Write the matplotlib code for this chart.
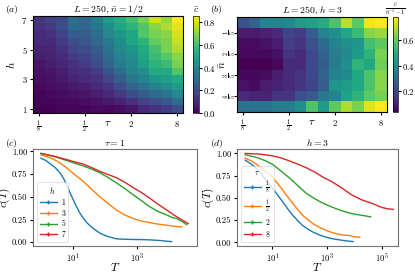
import numpy as np
import matplotlib
matplotlib.use("Agg")
import matplotlib.pyplot as plt
import matplotlib.transforms as mtransforms
from matplotlib.lines import Line2D

plt.rcParams["font.family"] = "serif"
plt.rcParams["font.serif"] = ["cmr10", "DejaVu Serif"]
plt.rcParams["mathtext.fontset"] = "cm"
plt.rcParams["axes.unicode_minus"] = False
plt.rcParams["axes.formatter.use_mathtext"] = True

# ---- heatmap data -------------------------------------------------------
log2_tau = [-3, -2.5, -2, -1.5, -1, -0.5, 0, 0.5, 1, 1.5, 2, 2.5, 3]
h_vals = [1, 1.5, 2, 2.5, 3, 3.5, 4, 4.5, 5, 5.5, 6, 6.5, 7]
nbar_vals = [0.1, 0.2, 0.3, 0.4, 0.5, 0.6, 0.7, 0.8, 0.9]

# panel (a): rows h = 1 ... 7
c_a = [
    [0.00, 0.00, 0.01, 0.01, 0.01, 0.02, 0.02, 0.03, 0.05, 0.10, 0.12, 0.15, 0.20],
    [0.01, 0.01, 0.02, 0.02, 0.03, 0.04, 0.06, 0.08, 0.12, 0.17, 0.20, 0.23, 0.30],
    [0.01, 0.02, 0.03, 0.04, 0.05, 0.07, 0.10, 0.14, 0.20, 0.25, 0.30, 0.33, 0.40],
    [0.02, 0.03, 0.04, 0.06, 0.07, 0.10, 0.13, 0.20, 0.27, 0.32, 0.38, 0.42, 0.47],
    [0.03, 0.04, 0.06, 0.08, 0.10, 0.12, 0.18, 0.25, 0.33, 0.38, 0.45, 0.48, 0.52],
    [0.04, 0.05, 0.07, 0.10, 0.12, 0.15, 0.22, 0.30, 0.38, 0.42, 0.52, 0.52, 0.62],
    [0.05, 0.07, 0.09, 0.12, 0.15, 0.20, 0.27, 0.35, 0.40, 0.48, 0.55, 0.58, 0.68],
    [0.07, 0.08, 0.10, 0.15, 0.17, 0.22, 0.30, 0.37, 0.42, 0.50, 0.58, 0.63, 0.70],
    [0.08, 0.09, 0.12, 0.18, 0.20, 0.25, 0.32, 0.40, 0.45, 0.52, 0.60, 0.68, 0.75],
    [0.10, 0.10, 0.15, 0.20, 0.23, 0.28, 0.35, 0.42, 0.50, 0.55, 0.65, 0.68, 0.78],
    [0.10, 0.12, 0.17, 0.25, 0.25, 0.30, 0.40, 0.45, 0.50, 0.62, 0.68, 0.70, 0.80],
    [0.12, 0.14, 0.20, 0.30, 0.27, 0.33, 0.42, 0.50, 0.55, 0.62, 0.70, 0.75, 0.82],
    [0.13, 0.17, 0.19, 0.31, 0.28, 0.36, 0.47, 0.53, 0.60, 0.68, 0.79, 0.72, 0.85],
]

# panel (b): rows nbar = 0.1 ... 0.9
c_b = [
    [0.225, 0.277, 0.373, 0.373, 0.395, 0.447, 0.469, 0.499, 0.573, 0.706, 0.595, 0.765, 0.780],
    [0.100, 0.100, 0.114, 0.129, 0.188, 0.173, 0.262, 0.373, 0.410, 0.484, 0.543, 0.647, 0.669],
    [0.062, 0.062, 0.077, 0.099, 0.173, 0.151, 0.225, 0.299, 0.373, 0.410, 0.425, 0.558, 0.595],
    [0.055, 0.055, 0.055, 0.077, 0.151, 0.129, 0.203, 0.277, 0.351, 0.395, 0.447, 0.521, 0.632],
    [0.040, 0.040, 0.040, 0.055, 0.129, 0.129, 0.203, 0.262, 0.351, 0.410, 0.521, 0.484, 0.617],
    [0.055, 0.055, 0.062, 0.099, 0.129, 0.151, 0.203, 0.277, 0.373, 0.395, 0.484, 0.573, 0.647],
    [0.077, 0.062, 0.099, 0.114, 0.129, 0.151, 0.188, 0.262, 0.425, 0.447, 0.484, 0.573, 0.647],
    [0.129, 0.114, 0.114, 0.151, 0.151, 0.225, 0.247, 0.336, 0.373, 0.469, 0.521, 0.595, 0.632],
    [0.321, 0.321, 0.321, 0.351, 0.351, 0.410, 0.573, 0.447, 0.595, 0.691, 0.632, 0.743, 0.780],
]
nbar_ticks = [0.2, 0.4, 0.6, 0.8]
nbar_labels = [r"$\frac{1}{5}$", r"$\frac{2}{5}$", r"$\frac{3}{5}$", r"$\frac{4}{5}$"]

# ---- decay curves (log10 T, c) -------------------------------------------
# panel (c), tau = 1
c_logT = {
    "1": [0.0, 0.15, 0.28, 0.45, 0.59, 0.70, 0.80, 0.90, 1.01, 1.12, 1.22, 1.33, 1.43, 1.54, 1.64,
          1.84, 2.05, 2.36, 2.60, 2.89, 3.15, 3.40, 3.72, 3.90, 4.08],
    "3": [0.0, 0.25, 0.49, 0.65, 0.80, 1.05, 1.32, 1.58, 1.84, 2.10, 2.36, 2.62, 2.89, 3.15, 3.40,
          3.65, 3.93, 4.15, 4.40],
    "5": [0.0, 0.40, 0.80, 1.05, 1.32, 1.58, 1.84, 2.10, 2.36, 2.62, 2.89, 3.15, 3.40, 3.65, 3.93,
          4.10, 4.24, 4.40, 4.55],
    "7": [0.0, 0.40, 0.80, 1.05, 1.32, 1.58, 1.84, 2.10, 2.36, 2.62, 2.89, 3.15, 3.40, 3.65, 3.93,
          4.15, 4.34, 4.60],
}
c_vals = {
    "1": [0.925, 0.900, 0.866, 0.820, 0.765, 0.705, 0.634, 0.550, 0.466, 0.385, 0.317, 0.262, 0.216,
          0.180, 0.149, 0.100, 0.067, 0.037, 0.033, 0.030, 0.029, 0.026, 0.019, 0.012, 0.007],
    "3": [0.963, 0.935, 0.896, 0.860, 0.820, 0.745, 0.670, 0.585, 0.500, 0.425, 0.354, 0.300, 0.260,
          0.232, 0.216, 0.200, 0.187, 0.176, 0.168],
    "5": [0.978, 0.945, 0.900, 0.870, 0.840, 0.805, 0.765, 0.712, 0.653, 0.590, 0.520, 0.455, 0.390,
          0.340, 0.300, 0.272, 0.260, 0.230, 0.194],
    "7": [0.978, 0.948, 0.910, 0.885, 0.860, 0.822, 0.780, 0.745, 0.710, 0.660, 0.600, 0.545, 0.485,
          0.420, 0.354, 0.300, 0.260, 0.205],
}

# panel (d), h = 3
d_labels = [r"$\frac{1}{8}$", r"$\frac{1}{2}$", "$2$", "$8$"]
d_logT = [
    [0.0, 0.20, 0.38, 0.56, 0.75, 0.88, 1.00, 1.18, 1.37, 1.55, 1.74, 1.92, 2.10, 2.30, 2.48,
     2.72, 2.97, 3.20, 3.46, 3.70, 3.95],
    [0.0, 0.20, 0.38, 0.56, 0.75, 0.88, 1.00, 1.18, 1.37, 1.55, 1.74, 1.92, 2.10, 2.30, 2.48,
     2.72, 2.97, 3.20, 3.46, 3.65, 3.83, 4.00, 4.20],
    [0.0, 0.43, 0.72, 1.00, 1.30, 1.62, 1.92, 2.23, 2.55, 2.85, 3.15, 3.46, 3.70, 3.90, 4.08,
     4.35, 4.60],
    [0.0, 0.55, 1.00, 1.30, 1.62, 1.92, 2.23, 2.55, 2.85, 3.15, 3.50, 3.90, 4.25, 4.63, 5.00,
     5.20, 5.43],
]
d_vals = [
    [0.924, 0.885, 0.840, 0.780, 0.706, 0.660, 0.610, 0.535, 0.458, 0.380, 0.305, 0.245, 0.190,
     0.148, 0.115, 0.083, 0.057, 0.040, 0.027, 0.016, 0.008],
    [0.947, 0.920, 0.885, 0.845, 0.800, 0.770, 0.733, 0.665, 0.590, 0.515, 0.440, 0.370, 0.305,
     0.255, 0.210, 0.168, 0.134, 0.108, 0.088, 0.080, 0.076, 0.062, 0.057],
    [0.985, 0.954, 0.920, 0.878, 0.805, 0.725, 0.640, 0.553, 0.490, 0.440, 0.400, 0.363, 0.340,
     0.324, 0.313, 0.300, 0.286],
    [1.000, 0.992, 0.973, 0.950, 0.916, 0.880, 0.840, 0.790, 0.733, 0.687, 0.620, 0.534, 0.480,
     0.440, 0.393, 0.378, 0.370],
]

colors = ["#1f77b4", "#ff7f0e", "#2ca02c", "#d62728"]
W, H = 415, 272


def box(x0, y0, x1, y1):
    return [x0 / W, 1 - y1 / H, (x1 - x0) / W, (y1 - y0) / H]


fig = plt.figure(figsize=(W / 100, H / 100), dpi=100)
fs_tick = 6.3
tau_ticks = [-3, -1, 1, 3]
tau_labels = [r"$\frac{1}{8}$", r"$\frac{1}{2}$", "$2$", "$8$"]

# (a)
ax = fig.add_axes(box(33, 16, 183, 113))
im = ax.imshow(np.array(c_a), origin="lower", aspect="auto", cmap="viridis",
               vmin=0, vmax=0.853,
               extent=(log2_tau[0] - 0.25, log2_tau[-1] + 0.25, h_vals[0] - 0.25, h_vals[-1] + 0.25))
ax.set_xticks(tau_ticks)
ax.set_xticklabels(tau_labels)
ax.set_yticks([1, 3, 5, 7])
ax.tick_params(labelsize=fs_tick, length=2.5, pad=1.5)
ax.set_xlabel(r"$\tau$", fontsize=8, labelpad=-12)
ax.set_ylabel(r"$h$", fontsize=8, labelpad=3)
ax.set_title(r"$L=250,\,\bar{n}=1/2$", fontsize=7, pad=2)
cax = fig.add_axes(box(193, 16, 199, 113))
cb = fig.colorbar(im, cax=cax, ticks=[0, 0.2, 0.4, 0.6, 0.8])
cb.ax.tick_params(labelsize=fs_tick, length=2, pad=1)
cb.outline.set_linewidth(0.5)
cax.set_title(r"$\bar{c}$", fontsize=7, pad=2)

# (b)
ax = fig.add_axes(box(237, 17, 387, 112))
im = ax.imshow(np.array(c_b), origin="upper", aspect="auto", cmap="viridis",
               vmin=0.04, vmax=0.78,
               extent=(log2_tau[0] - 0.25, log2_tau[-1] + 0.25, nbar_vals[-1] + 0.05, nbar_vals[0] - 0.05))
ax.set_xticks(tau_ticks)
ax.set_xticklabels(tau_labels)
ax.set_yticks(nbar_ticks)
ax.set_yticklabels([])
trans = mtransforms.blended_transform_factory(ax.transAxes, ax.transData)
for yv, lab in zip(nbar_ticks, nbar_labels):
    ax.text(-0.045, yv, lab, transform=trans, rotation=90, ha="center", va="center",
            fontsize=fs_tick)
ax.tick_params(labelsize=fs_tick, length=2.5, pad=1.5)
ax.set_xlabel(r"$\tau$", fontsize=8, labelpad=-12)
ax.text(-0.095, 0.5, r"$\bar{n}$", transform=ax.transAxes, rotation=90,
        ha="center", va="center", fontsize=8)
ax.set_title(r"$L=250,\,h=3$", fontsize=7, pad=2)
cax = fig.add_axes(box(393, 17, 398, 112))
cb = fig.colorbar(im, cax=cax, ticks=[0.2, 0.4, 0.6])
cb.ax.tick_params(labelsize=fs_tick, length=2, pad=1)
cb.outline.set_linewidth(0.5)
cax.set_title(r"$\frac{\bar{c}}{\bar{n}^{-1}-1}$", fontsize=6, pad=2)


def style_line_axes(ax):
    ax.set_xscale("log")
    ax.set_xticks([1e1, 1e3, 1e5])
    ax.xaxis.set_minor_locator(matplotlib.ticker.NullLocator())
    ax.set_yticks([0, 0.25, 0.5, 0.75, 1.0])
    ax.set_yticklabels(["0.00", "0.25", "0.50", "0.75", "1.00"])
    ax.tick_params(labelsize=fs_tick, length=2.5, pad=1.5)
    for s in ax.spines.values():
        s.set_color("0.45")
        s.set_linewidth(0.8)
    ax.set_xlabel(r"$T$", fontsize=8.5, labelpad=-3)
    ax.set_ylabel(r"$c(T)$", fontsize=8)
    ax.yaxis.set_label_coords(-0.13, 0.5)


# (c)
ax = fig.add_axes(box(33, 149, 197, 246))
handles = []
for (key, lt), col in zip(c_logT.items(), colors):
    ax.plot(10 ** np.array(lt), c_vals[key], color=col, lw=1.0)
    handles.append(Line2D([], [], color=col, lw=1.0, marker="+", markersize=3, label=key))
style_line_axes(ax)
ax.set_xlim(10 ** -0.25, 10 ** 4.875)
ax.set_title(r"$\tau=1$", fontsize=7, pad=2)
leg = ax.legend(handles=handles, title=r"$h$", fontsize=5.5, title_fontsize=5.5,
                loc="lower left", handlelength=2.2, labelspacing=0.3,
                borderpad=0.4, handletextpad=0.6)
leg.get_frame().set_linewidth(0.5)

# (d)
ax = fig.add_axes(box(237, 149, 398, 246))
handles = []
for lt, vals, lab, col in zip(d_logT, d_vals, d_labels, colors):
    ax.plot(10 ** np.array(lt), vals, color=col, lw=1.0)
    handles.append(Line2D([], [], color=col, lw=1.0, marker="+", markersize=3, label=lab))
style_line_axes(ax)
ax.set_xlim(10 ** -0.3, 10 ** 5.6)
ax.set_title(r"$h=3$", fontsize=7, pad=2)
leg = ax.legend(handles=handles, title=r"$\tau$", fontsize=5.5, title_fontsize=5.5,
                loc="lower left", handlelength=2.2, labelspacing=0.3,
                borderpad=0.4, handletextpad=0.6)
leg.get_frame().set_linewidth(0.5)

# panel labels
for x, y, s in [(5, 10, "(a)"), (210, 10, "(b)"), (5, 143, "(c)"), (210, 143, "(d)")]:
    fig.text(x / W, 1 - y / H, "$" + s + "$", fontsize=7, va="center")

fig.savefig("out.png", dpi=100)
